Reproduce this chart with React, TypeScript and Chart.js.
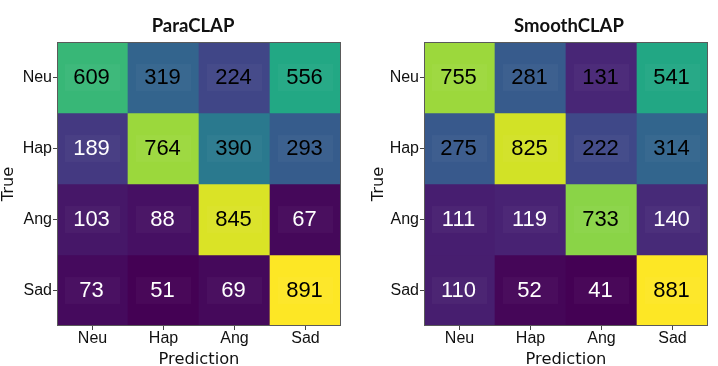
import React, { useEffect, useRef } from "react";
import { Chart, registerables } from "chart.js";

Chart.register(...registerables);

// ---------- data ----------
const predLabels = ["Neu", "Hap", "Ang", "Sad"];
const trueLabels = ["Neu", "Hap", "Ang", "Sad"];

const paraTitle = "ParaCLAP";
const paraValues = [
  [609, 319, 224, 556],
  [189, 764, 390, 293],
  [103, 88, 845, 67],
  [73, 51, 69, 891],
];

const smoothTitle = "SmoothCLAP";
const smoothValues = [
  [755, 281, 131, 541],
  [275, 825, 222, 314],
  [111, 119, 733, 140],
  [110, 52, 41, 881],
];

// ---------- styles ----------
const paraWhiteText = [
  [false, false, false, false],
  [true, false, false, false],
  [true, true, false, true],
  [true, true, true, false],
];
const smoothWhiteText = [
  [false, false, false, false],
  [false, false, false, false],
  [true, true, false, true],
  [true, true, true, false],
];

const VIRIDIS = [
  [68, 1, 84],
  [72, 36, 117],
  [65, 68, 135],
  [53, 95, 141],
  [42, 120, 142],
  [33, 145, 140],
  [34, 168, 132],
  [68, 191, 112],
  [122, 209, 81],
  [189, 223, 38],
  [253, 231, 37],
];

function viridis(t: number): string {
  const x = Math.max(0, Math.min(1, t)) * (VIRIDIS.length - 1);
  const i = Math.min(Math.floor(x), VIRIDIS.length - 2);
  const f = x - i;
  const a = VIRIDIS[i];
  const b = VIRIDIS[i + 1];
  const c = a.map((v, k) => Math.round(v + (b[k] - v) * f));
  return `rgb(${c[0]},${c[1]},${c[2]})`;
}

const TICK_FONT = { family: '"Liberation Sans", Arial, sans-serif', size: 16 };
const AXIS_TITLE_FAMILY = '"DejaVu Sans", sans-serif';

type Props = {
  values: number[][];
  whiteText: boolean[][];
  title: string;
  left: number;
  width: number;
  yAxisWidth: number;
  rightPad: number;
  titleOffset: number;
};

function Matrix({ values, whiteText, title, left, width, yAxisWidth, rightPad, titleOffset }: Props) {
  const ref = useRef<HTMLCanvasElement | null>(null);

  useEffect(() => {
    if (!ref.current) return;
    const flat = values.flat();
    const min = Math.min(...flat);
    const max = Math.max(...flat);

    const datasets = trueLabels.map((t, r) => ({
      label: t,
      data: values[r].map(() => [r, r + 1]),
      backgroundColor: values[r].map((v) => viridis((v - min) / (max - min))),
      borderWidth: 0,
      grouped: false,
      barPercentage: 1,
      categoryPercentage: 1,
    }));

    const cellPlugin = {
      id: "cellLabels",
      afterDatasetsDraw(chart: any) {
        const ctx = chart.ctx;
        ctx.save();
        chart.data.datasets.forEach((_: any, r: number) => {
          const meta = chart.getDatasetMeta(r);
          meta.data.forEach((bar: any, c: number) => {
            const p = bar.getProps(["x", "y", "base", "width"], true);
            const h = Math.abs(p.base - p.y);
            const cy = (p.y + p.base) / 2;
            ctx.fillStyle = "rgba(255,255,255,0.03)";
            ctx.fillRect(p.x - p.width * 0.39, cy - h * 0.19, p.width * 0.78, h * 0.38);
            ctx.fillStyle = whiteText[r][c] ? "#ffffff" : "#000000";
            ctx.font = '22px "Liberation Sans", Arial, sans-serif';
            ctx.textAlign = "center";
            ctx.textBaseline = "middle";
            ctx.fillText(String(values[r][c]), p.x - 1, cy + 0.5);
          });
        });
        const a = chart.chartArea;
        ctx.strokeStyle = "#5a5a5a";
        ctx.lineWidth = 1;
        ctx.strokeRect(a.left + 0.5, a.top + 0.5, a.right - a.left - 1, a.bottom - a.top - 1);
        ctx.fillStyle = "#111111";
        ctx.font = 'bold 18.5px Lato, "Liberation Sans", sans-serif';
        ctx.textAlign = "center";
        ctx.textBaseline = "alphabetic";
        ctx.fillText(title, (a.left + a.right) / 2 + titleOffset, 32);
        ctx.restore();
      },
    };

    const chart = new Chart(ref.current, {
      type: "bar",
      data: { labels: predLabels, datasets: datasets as any },
      plugins: [cellPlugin],
      options: {
        animation: false,
        responsive: false,
        events: [],
        layout: { padding: { top: 42, right: rightPad, bottom: 0, left: 0 } },
        plugins: { legend: { display: false }, tooltip: { enabled: false }, title: { display: false } },
        scales: {
          x: {
            type: "category",
            offset: true,
            grid: { display: true, offset: false, drawOnChartArea: false, drawTicks: true, tickLength: 4, color: "#444" },
            border: { display: false },
            ticks: { color: "#111", font: { ...TICK_FONT, lineHeight: 1 }, padding: 1, maxRotation: 0 },
            title: {
              display: true,
              text: "Prediction",
              color: "#111",
              font: { family: AXIS_TITLE_FAMILY, size: 16.3, lineHeight: 0.82 },
              padding: 0,
            },
            afterFit(scale: any) {
              scale.height = 40;
            },
          },
          y: {
            type: "linear",
            min: 0,
            max: 4,
            reverse: true,
            grid: { display: true, drawOnChartArea: false, drawTicks: true, tickLength: 4, color: "#444" },
            border: { display: false },
            ticks: {
              color: "#111",
              font: TICK_FONT,
              padding: 1,
              autoSkip: false,
              callback: (v: any) => trueLabels[Math.floor(Number(v))] ?? "",
            },
            afterBuildTicks(scale: any) {
              scale.ticks = trueLabels.map((_, i) => ({ value: i + 0.5 }));
            },
            title: {
              display: true,
              text: "True",
              color: "#111",
              font: { family: AXIS_TITLE_FAMILY, size: 16.3, lineHeight: 1.06 },
              padding: 0,
            },
            afterFit(scale: any) {
              scale.width = yAxisWidth;
            },
          },
        },
      } as any,
    });
    return () => chart.destroy();
  }, []);

  return (
    <canvas
      ref={ref}
      width={width}
      height={366}
      style={{ position: "absolute", left, top: 0, width, height: 366 }}
    />
  );
}

export default function App() {
  return (
    <div style={{ position: "absolute", left: 0, top: 0, width: 718, height: 366, background: "#fff", overflow: "hidden" }}>
      <Matrix
        values={paraValues}
        whiteText={paraWhiteText}
        title={paraTitle}
        left={0}
        width={370}
        yAxisWidth={57}
        rightPad={29}
        titleOffset={-6}
      />
      <Matrix
        values={smoothValues}
        whiteText={smoothWhiteText}
        title={smoothTitle}
        left={370}
        width={348}
        yAxisWidth={54}
        rightPad={10}
        titleOffset={3}
      />
    </div>
  );
}
